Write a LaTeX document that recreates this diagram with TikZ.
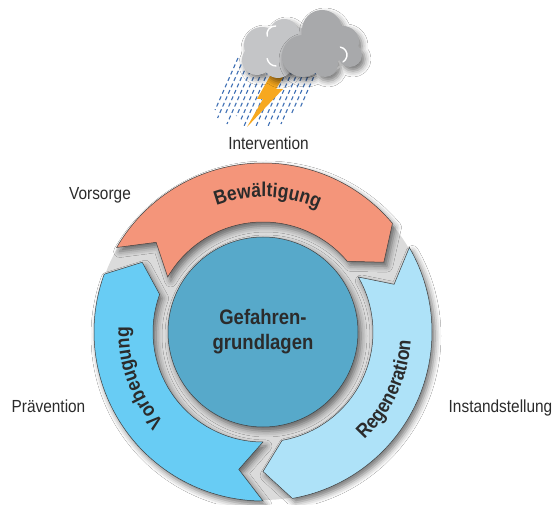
\documentclass[tikz,border=0pt]{standalone}
\usepackage{fontspec}
\newfontfamily\narrowsans[FakeStretch=0.88]{Liberation Sans}
\usetikzlibrary{shadows.blur,decorations.text}

\definecolor{coping}{HTML}{F4957A}
\definecolor{prevent}{HTML}{68CCF4}
\definecolor{recover}{HTML}{AEE2F8}
\definecolor{basis}{HTML}{57A9CA}
\definecolor{inkgray}{HTML}{2B2B2B}
\definecolor{cloudlight}{HTML}{C4C5C7}
\definecolor{clouddark}{HTML}{A8A9AB}
\definecolor{raindrop}{HTML}{3F70B5}
\definecolor{boltcol}{HTML}{F7A81F}

\newcommand\arcfont{\narrowsans\bfseries\fontsize{20}{24}\selectfont}

\tikzset{
	softshadow/.style={blur shadow={shadow xshift=3pt, shadow yshift=-4pt, shadow blur radius=6pt, shadow opacity=55}},
	phase/.style={draw=black!75, line width=0.5pt, softshadow},
	core/.style={circle, minimum size=190pt, fill=basis, draw=black!75, line width=0.5pt, softshadow,
		align=center, text=inkgray, font=\narrowsans\bfseries\fontsize{21}{25}\selectfont},
	phasenote/.style={anchor=base, text=inkgray, font=\narrowsans\fontsize{17.5}{20}\selectfont},
	rain/.style={raindrop, line width=1.1pt, dash pattern=on 4pt off 3pt},
	highlight/.style={white, line width=1.4pt, line cap=round},
}

\begin{document}
\begin{tikzpicture}[x=1pt,y=1pt]
	\path[fill=white, use as bounding box] (0,0) rectangle (557,504);

	% rain, bolt and cloud
	\foreach \x/\len in {238/52, 244/60, 250/56, 256/66, 262/58, 268/64, 274/70, 280/62, 286/68, 292/64, 298/70, 304/62, 310/66, 316/56, 322/50}
		\draw[rain] (\x,446) -- ++({-0.44*\len},-\len);
	\fill[boltcol] (270,428) -- (284,428) -- (276,415) -- (283,415) -- (247,377) -- (263,405) -- (257,405) -- cycle;
	\fill[cloudlight, softshadow] (262,459) circle[radius=18] (284,470) circle[radius=15] (300,456) circle[radius=20]
		(257,444) circle[radius=15] (278,441) circle[radius=15] (270,452) circle[radius=15];
	\fill[clouddark, softshadow] (303,448) circle[radius=21] (322,474) circle[radius=20] (343,462) circle[radius=16]
		(350,449) circle[radius=12] (325,440) circle[radius=13] (325,455) circle[radius=18];
	\draw[highlight] (275,470) ++(85:8) arc[start angle=85, end angle=195, radius=8];
	\draw[highlight] (276,447) ++(190:9) arc[start angle=190, end angle=270, radius=9];
	\draw[highlight] (339,449) ++(80:8) arc[start angle=80, end angle=-60, radius=8];

	% cycle of phases around the core
	\begin{scope}[shift={(263,172)}]
		\fill[black!14] (0,0) circle[radius=168];
		\foreach \a/\col in {150/coping, 30/recover, 270/prevent}
			\filldraw[phase, fill=\col] (\a:169) arc[start angle=\a, end angle=\a-110, radius=169]
				-- ({\a-120}:139.5) -- ({\a-110}:110) arc[start angle=\a-110, end angle=\a, radius=110]
				-- ({\a-10}:139.5) -- cycle;
		\path[decorate, decoration={text along path, text align=center, text color=inkgray,
			text={|\arcfont|Bewältigung}}] (165:135) arc[start angle=165, end angle=11, radius=135];
		\path[decorate, decoration={text along path, text align=center, text color=inkgray,
			text={|\arcfont|Vorbeugung}}] (275:134) arc[start angle=275, end angle=125, radius=134];
		\path[decorate, decoration={text along path, text align=center, text color=inkgray,
			text={|\arcfont|Regeneration}}] (-100:148) arc[start angle=-100, end angle=50, radius=148];
		\node[core] (core) at (0,0) {Gefahren-\\grundlagen};
	\end{scope}

	\node[phasenote] (interv) at (268.5,354) {Intervention};
	\node[phasenote] (vorsorge) at (100,304) {Vorsorge};
	\node[phasenote] (praev) at (48.5,92) {Prävention};
	\node[phasenote] (instand) at (500.5,92) {Instandstellung};
\end{tikzpicture}
\end{document}
